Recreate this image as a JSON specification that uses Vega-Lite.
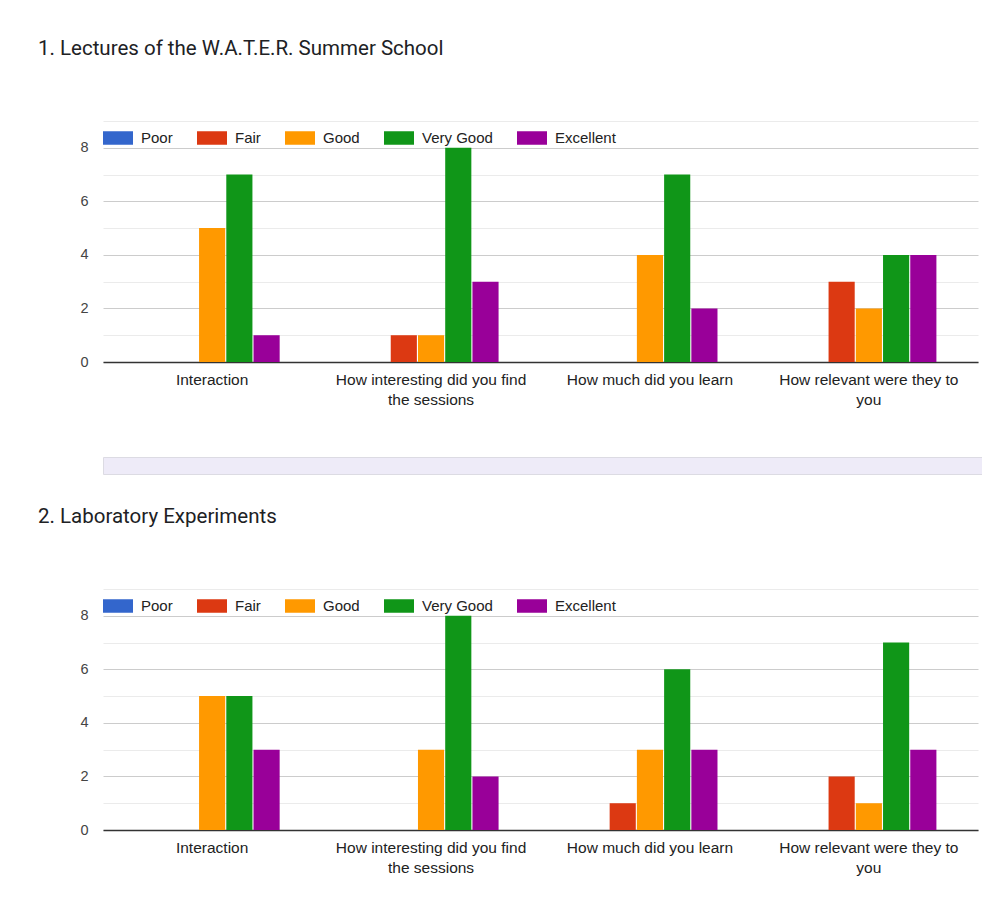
{
  "$schema": "https://vega.github.io/schema/vega-lite/v6.json",
  "background": "white",
  "padding": {"left": 38, "top": 38, "right": 0, "bottom": 0},
  "datasets": {
    "lectures": [
      {"question": "Interaction", "rating": "Good", "count": 5},
      {"question": "Interaction", "rating": "Very Good", "count": 7},
      {"question": "Interaction", "rating": "Excellent", "count": 1},
      {"question": "How interesting did you find the sessions", "rating": "Fair", "count": 1},
      {"question": "How interesting did you find the sessions", "rating": "Good", "count": 1},
      {"question": "How interesting did you find the sessions", "rating": "Very Good", "count": 8},
      {"question": "How interesting did you find the sessions", "rating": "Excellent", "count": 3},
      {"question": "How much did you learn", "rating": "Good", "count": 4},
      {"question": "How much did you learn", "rating": "Very Good", "count": 7},
      {"question": "How much did you learn", "rating": "Excellent", "count": 2},
      {"question": "How relevant were they to you", "rating": "Fair", "count": 3},
      {"question": "How relevant were they to you", "rating": "Good", "count": 2},
      {"question": "How relevant were they to you", "rating": "Very Good", "count": 4},
      {"question": "How relevant were they to you", "rating": "Excellent", "count": 4}
    ],
    "labs": [
      {"question": "Interaction", "rating": "Good", "count": 5},
      {"question": "Interaction", "rating": "Very Good", "count": 5},
      {"question": "Interaction", "rating": "Excellent", "count": 3},
      {"question": "How interesting did you find the sessions", "rating": "Good", "count": 3},
      {"question": "How interesting did you find the sessions", "rating": "Very Good", "count": 8},
      {"question": "How interesting did you find the sessions", "rating": "Excellent", "count": 2},
      {"question": "How much did you learn", "rating": "Fair", "count": 1},
      {"question": "How much did you learn", "rating": "Good", "count": 3},
      {"question": "How much did you learn", "rating": "Very Good", "count": 6},
      {"question": "How much did you learn", "rating": "Excellent", "count": 3},
      {"question": "How relevant were they to you", "rating": "Fair", "count": 2},
      {"question": "How relevant were they to you", "rating": "Good", "count": 1},
      {"question": "How relevant were they to you", "rating": "Very Good", "count": 7},
      {"question": "How relevant were they to you", "rating": "Excellent", "count": 3}
    ],
    "empty": []
  },
  "config": {
    "view": {"stroke": null},
    "font": "Liberation Sans",
    "title": {"font": "Roboto", "fontSize": 20.5, "fontWeight": 400, "color": "#202124", "anchor": "start", "frame": "group", "dx": -65, "offset": 62},
    "axisX": {
      "title": null, "labelAngle": 0, "ticks": false, "domainColor": "#333333", "domainWidth": 1.5,
      "labelFont": "Liberation Sans", "labelFontSize": 15.5, "labelColor": "#222222", "labelPadding": 10, "labelLineHeight": 20,
      "labelLimit": 0, "grid": false,
      "labelExpr": "datum.value == 'How interesting did you find the sessions' ? ['How interesting did you find', 'the sessions'] : datum.value == 'How relevant were they to you' ? ['How relevant were they to', 'you'] : datum.label"
    },
    "axisY": {
      "title": null, "domain": false, "ticks": false, "labelFont": "Liberation Sans", "labelFontSize": 14.5, "labelColor": "#444444",
      "labelPadding": 15, "values": [0, 1, 2, 3, 4, 5, 6, 7, 8, 9],
      "labelExpr": "datum.value % 2 === 0 ? datum.label : ''",
      "gridColor": {"condition": {"test": "datum.value % 2 === 0", "value": "#cccccc"}, "value": "#ebebeb"},
      "gridWidth": 1
    },
    "legend": {
      "orient": "none", "legendX": 0, "legendY": 2, "direction": "horizontal", "title": null,
      "symbolType": "M-1,-0.45H1V0.45H-1Z", "symbolSize": 900, "symbolStrokeWidth": 0, "symbolOpacity": 1,
      "labelFont": "Liberation Sans", "labelFontSize": 15, "labelColor": "#222222", "labelOffset": 8,
      "columnPadding": 24, "padding": 0, "offset": 0
    }
  },
  "vconcat": [
    {
      "title": "1. Lectures of the W.A.T.E.R. Summer School",
      "width": 875, "height": 241,
      "data": {"name": "lectures"},
      "mark": {"type": "bar"},
      "encoding": {
        "x": {"field": "question", "type": "nominal", "sort": null,
              "scale": {"domain": ["Interaction", "How interesting did you find the sessions", "How much did you learn", "How relevant were they to you"], "paddingInner": 0.383, "paddingOuter": 0.19}},
        "xOffset": {"field": "rating", "type": "nominal", "scale": {"domain": ["Poor", "Fair", "Good", "Very Good", "Excellent"], "paddingInner": 0.04, "paddingOuter": 0}},
        "y": {"field": "count", "type": "quantitative", "scale": {"domain": [0, 9], "nice": false}},
        "color": {"field": "rating", "type": "nominal",
                  "scale": {"domain": ["Poor", "Fair", "Good", "Very Good", "Excellent"], "range": ["#3366cc", "#dc3912", "#ff9900", "#109618", "#990099"]}}
      }
    },
    {
      "spacing": 31,
      "resolve": {"scale": {"color": "independent"}, "legend": {"color": "independent"}},
      "vconcat": [
        {
          "width": 879, "height": 17,
          "data": {"name": "empty"},
          "mark": "rect",
          "encoding": {},
          "view": {"fill": "#eeebf8", "stroke": "#dcdbe3"}
        },
        {
          "title": "2. Laboratory Experiments",
          "width": 875, "height": 241,
          "data": {"name": "labs"},
          "mark": {"type": "bar"},
          "encoding": {
            "x": {"field": "question", "type": "nominal", "sort": null,
                  "scale": {"domain": ["Interaction", "How interesting did you find the sessions", "How much did you learn", "How relevant were they to you"], "paddingInner": 0.383, "paddingOuter": 0.19}},
            "xOffset": {"field": "rating", "type": "nominal", "scale": {"domain": ["Poor", "Fair", "Good", "Very Good", "Excellent"], "paddingInner": 0.04, "paddingOuter": 0}},
            "y": {"field": "count", "type": "quantitative", "scale": {"domain": [0, 9], "nice": false}},
            "color": {"field": "rating", "type": "nominal",
                      "scale": {"domain": ["Poor", "Fair", "Good", "Very Good", "Excellent"], "range": ["#3366cc", "#dc3912", "#ff9900", "#109618", "#990099"]}}
          }
        }
      ]
    }
  ],
  "spacing": 48,
  "resolve": {"scale": {"color": "independent"}, "legend": {"color": "independent"}}
}
